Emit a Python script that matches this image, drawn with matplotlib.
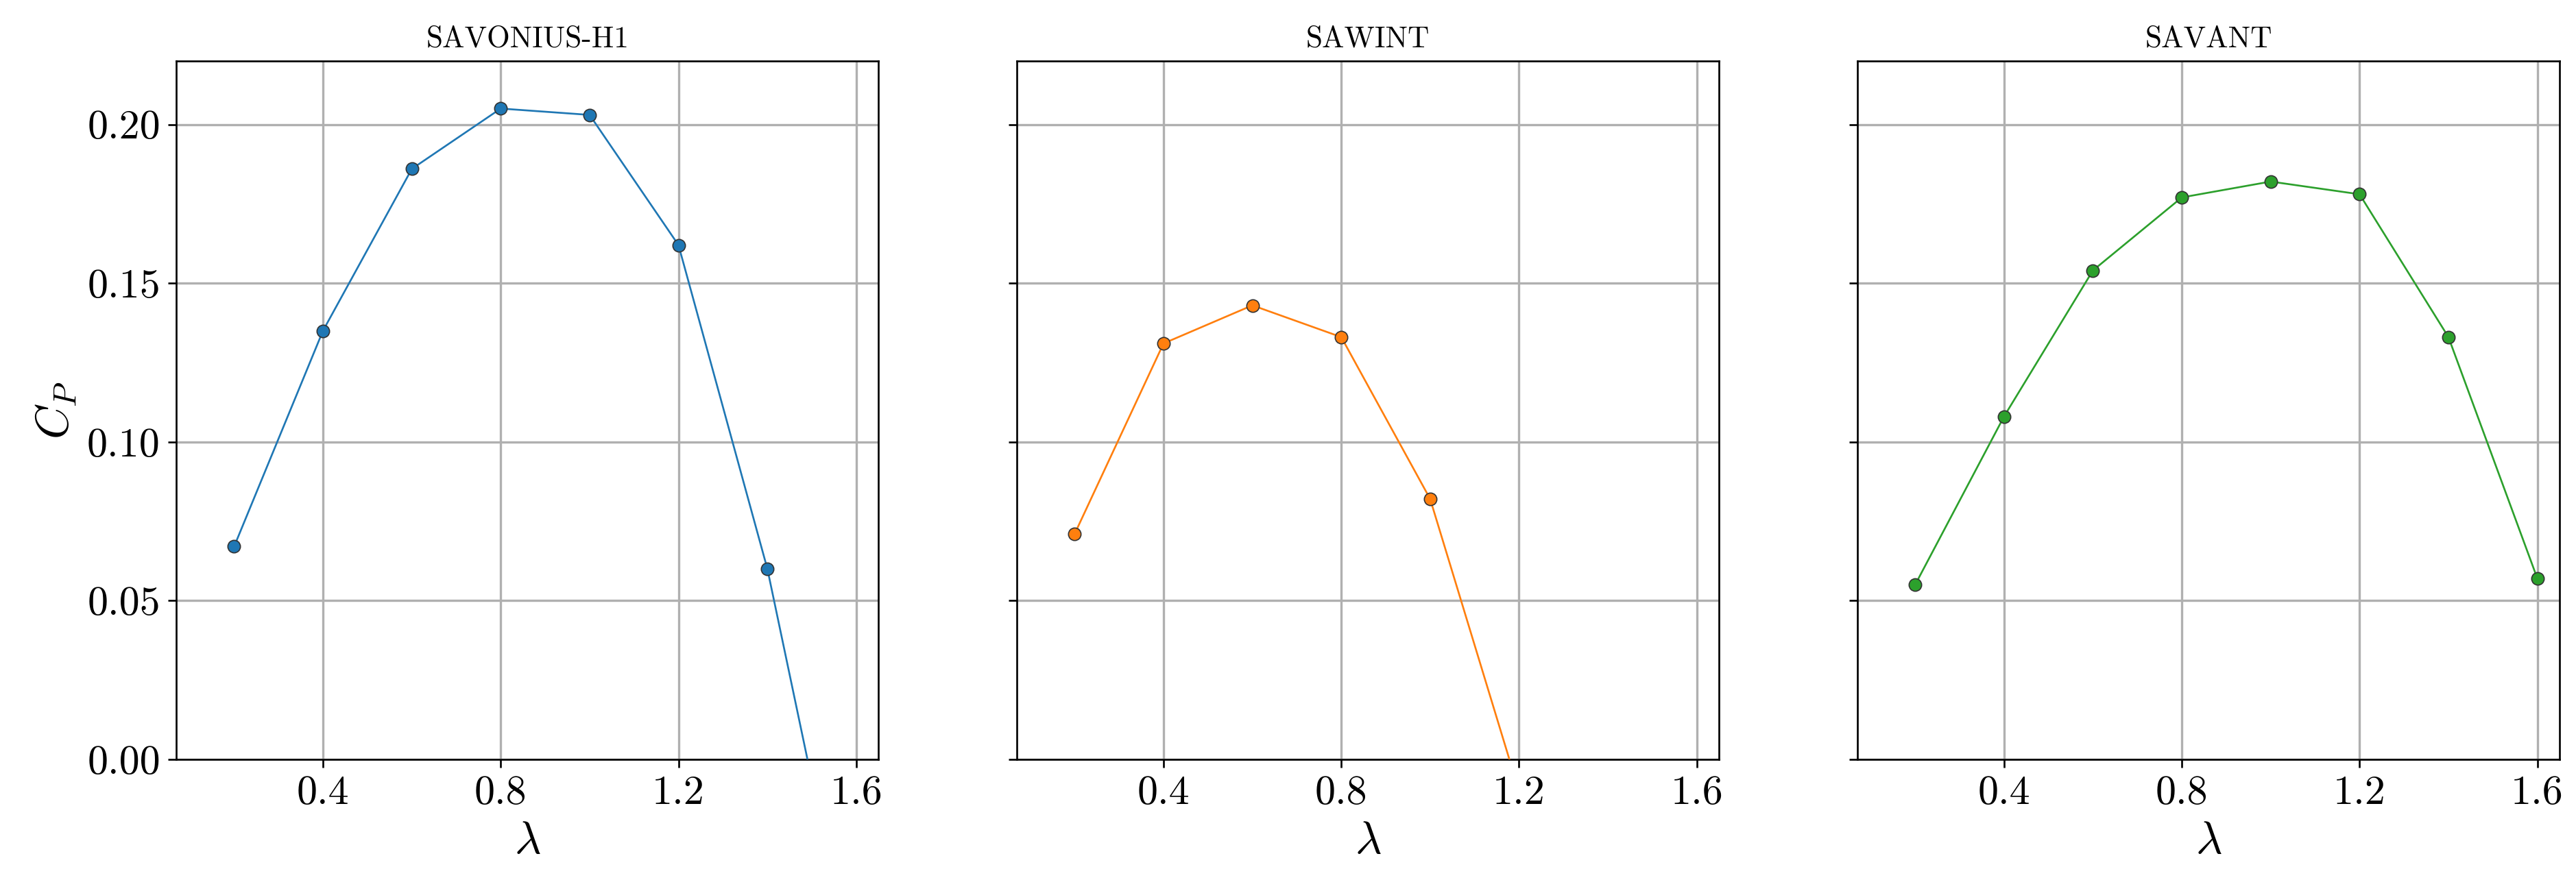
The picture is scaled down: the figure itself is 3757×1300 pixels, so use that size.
import matplotlib
matplotlib.use("Agg")
import matplotlib.pyplot as plt

plt.rcParams['font.family'] = 'serif'
plt.rcParams['font.serif'] = ['cmr10']
plt.rcParams['mathtext.fontset'] = 'cm'
plt.rcParams['axes.formatter.use_mathtext'] = True

titles = ["SAVONIUS-H1", "SAWINT", "SAVANT"]
x1 = [0.2, 0.4, 0.6, 0.8, 1.0, 1.2, 1.4, 1.6]
y1 = [0.067, 0.135, 0.186, 0.205, 0.203, 0.162, 0.060, -0.073]
x2 = [0.2, 0.4, 0.6, 0.8, 1.0, 1.2]
y2 = [0.071, 0.131, 0.143, 0.133, 0.082, -0.010]
x3 = [0.2, 0.4, 0.6, 0.8, 1.0, 1.2, 1.4, 1.6]
y3 = [0.055, 0.108, 0.154, 0.177, 0.182, 0.178, 0.133, 0.057]
colors = ["#1f77b4", "#ff7f0e", "#2ca02c"]
xticks = [0.4, 0.8, 1.2, 1.6]
yticks = [0.0, 0.05, 0.10, 0.15, 0.20]

fig = plt.figure(figsize=(3757/240, 1300/240), dpi=240)
lefts = [107/1563, 617/1563, 1127/1563]
w = 426/1563
for i, (xs, ys) in enumerate([(x1, y1), (x2, y2), (x3, y3)]):
    ax = fig.add_axes([lefts[i], 80/541, w, 424/541])
    ax.plot(xs, ys, '-o', color=colors[i], lw=0.8, ms=5.5,
            markeredgecolor='#333333', markeredgewidth=0.5, zorder=3)
    ax.set_xlim(0.07, 1.65)
    ax.set_ylim(0, 0.22)
    ax.set_xticks(xticks)
    ax.set_xticklabels([f"{t:.1f}" for t in xticks])
    ax.set_yticks(yticks)
    ax.grid(True, color='#b0b0b0', lw=1.0)
    ax.set_axisbelow(True)
    ax.tick_params(labelsize=18)
    ax.set_xlabel(r"$\lambda$", fontsize=20)
    ax.set_title(titles[i], fontsize=13)
    if i == 0:
        ax.set_yticklabels([f"{t:.2f}" for t in yticks])
        ax.set_ylabel(r"$C_P$", fontsize=20)
    else:
        ax.set_yticklabels([])
fig.savefig("out.png", dpi=240)
